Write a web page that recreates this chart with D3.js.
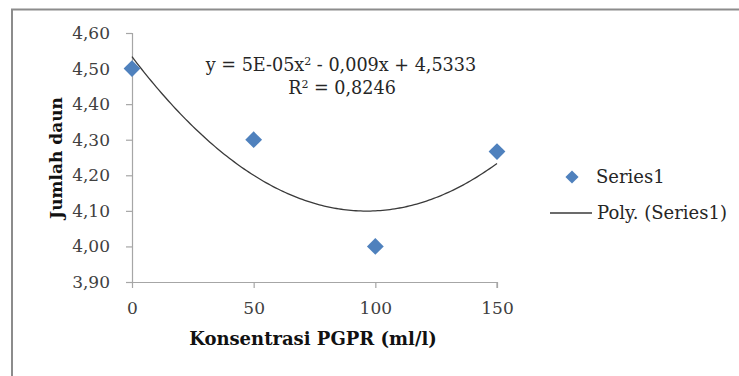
<!DOCTYPE html>
<html>
<head>
<meta charset="utf-8">
<script src="https://cdn.jsdelivr.net/npm/d3@7"></script>
<style>
  html, body { margin: 0; padding: 0; background: #fff; }
  svg { display: block; }
  text { font-family: "DejaVu Serif", "Liberation Serif", serif; }
</style>
</head>
<body>
<div id="chart"></div>
<script>
// Konsentrasi PGPR (ml/l) vs. Jumlah daun
const concentrations = [0, 50, 100, 150];
const leafCounts = [4.50, 4.30, 4.00, 4.2667];
const yTicks = [3.90, 4.00, 4.10, 4.20, 4.30, 4.40, 4.50, 4.60];
const xTicks = [0, 50, 100, 150];
const equationParts = ["y = 5E-05x", "2", " - 0,009x + 4,5333"];
const r2Label = "0,8246";
const legendLabels = ["Series1", "Poly. (Series1)"];

const W = 739, H = 376;
const margin = { left: 132, right: 242, top: 33, bottom: 94 };

const svg = d3.select("#chart").append("svg")
  .attr("width", W).attr("height", H);

// chart frame (top and left edges visible)
svg.append("path")
  .attr("d", `M12,${H} L12,9.5 L${W},9.5`)
  .attr("fill", "none").attr("stroke", "#8c8c8c").attr("stroke-width", 2);

const x = d3.scaleLinear().domain([0, 150]).range([margin.left, W - margin.right]);
const y = d3.scaleLinear().domain([3.9, 4.6]).range([H - margin.bottom, margin.top]);

const fmt = d => d3.format(".2f")(d).replace(".", ",");

// y axis
const yAxis = svg.append("g")
  .attr("transform", `translate(${x(0)},0)`)
  .call(d3.axisLeft(y).tickValues(yTicks).tickFormat(fmt).tickSize(6).tickPadding(16));
// x axis
const xAxis = svg.append("g")
  .attr("transform", `translate(0,${y(3.9)})`)
  .call(d3.axisBottom(x).tickValues(xTicks).tickSize(6).tickPadding(14));

[yAxis, xAxis].forEach(g => {
  g.select(".domain").attr("stroke", "#a6a6a6").attr("stroke-width", 1.2);
  g.selectAll(".tick line").attr("stroke", "#a6a6a6").attr("stroke-width", 1.2);
  g.selectAll(".tick text")
    .attr("fill", "#404040")
    .style("font-family", "'DejaVu Serif', serif")
    .style("font-size", "17px");
});
xAxis.select(".domain").attr("d", `M${x(0) - 6},0.5H${x(150)}V6`);

// least squares quadratic fit for the trendline
function polyfit2(xs, ys) {
  const S = [0, 0, 0, 0, 0], T = [0, 0, 0];
  xs.forEach((xi, i) => {
    for (let k = 0; k < 5; k++) S[k] += Math.pow(xi, k);
    for (let k = 0; k < 3; k++) T[k] += Math.pow(xi, k) * ys[i];
  });
  const A = [[S[0], S[1], S[2], T[0]], [S[1], S[2], S[3], T[1]], [S[2], S[3], S[4], T[2]]];
  for (let i = 0; i < 3; i++) {
    for (let j = i + 1; j < 3; j++) {
      const f = A[j][i] / A[i][i];
      for (let k = i; k < 4; k++) A[j][k] -= f * A[i][k];
    }
  }
  const c = [0, 0, 0];
  for (let i = 2; i >= 0; i--) {
    let s = A[i][3];
    for (let k = i + 1; k < 3; k++) s -= A[i][k] * c[k];
    c[i] = s / A[i][i];
  }
  return c;
}
const coef = polyfit2(concentrations, leafCounts);
const fitPts = d3.range(0, 150.01, 1).map(v => [v, coef[0] + coef[1] * v + coef[2] * v * v]);

svg.append("path")
  .datum(fitPts)
  .attr("fill", "none")
  .attr("stroke", "#3a3a3a")
  .attr("stroke-width", 1.3)
  .attr("d", d3.line().x(d => x(d[0])).y(d => y(d[1])));

// data markers
const diamond = d3.symbol().type(d3.symbolDiamond2).size(180);
svg.selectAll("path.pt")
  .data(concentrations)
  .join("path")
  .attr("class", "pt")
  .attr("d", diamond)
  .attr("transform", (d, i) => `translate(${x(d)},${y(leafCounts[i])})`)
  .attr("fill", "#4f81bd");

// trendline equation
const eq = svg.append("text")
  .attr("x", 341).attr("y", 71)
  .attr("text-anchor", "middle")
  .attr("fill", "#262626")
  .style("font-size", "17.6px");
eq.append("tspan").text(equationParts[0]);
eq.append("tspan").attr("dy", -6).style("font-size", "11px").text(equationParts[1]);
eq.append("tspan").attr("dy", 6).text(equationParts[2]);

const r2 = svg.append("text")
  .attr("x", 342).attr("y", 94)
  .attr("text-anchor", "middle")
  .attr("fill", "#262626")
  .style("font-size", "17.6px");
r2.append("tspan").text("R");
r2.append("tspan").attr("dy", -6).style("font-size", "11px").text("2");
r2.append("tspan").attr("dy", 6).text(" = " + r2Label);

// axis titles
svg.append("text")
  .attr("x", 313).attr("y", 345)
  .attr("text-anchor", "middle")
  .attr("fill", "#111")
  .style("font-size", "18px").style("font-weight", "bold")
  .text("Konsentrasi PGPR (ml/l)");

svg.append("text")
  .attr("transform", "translate(62,158) rotate(-90)")
  .attr("text-anchor", "middle")
  .attr("fill", "#111")
  .style("font-size", "17px").style("font-weight", "bold")
  .text("Jumlah daun");

// legend
const lg = svg.append("g");
lg.append("path")
  .attr("d", d3.symbol().type(d3.symbolDiamond2).size(110))
  .attr("transform", "translate(572,177)")
  .attr("fill", "#4f81bd");
lg.append("text").attr("x", 596).attr("y", 183)
  .attr("fill", "#262626").style("font-size", "18px").text(legendLabels[0]);
lg.append("line")
  .attr("x1", 550).attr("x2", 592).attr("y1", 213).attr("y2", 213)
  .attr("stroke", "#3a3a3a").attr("stroke-width", 1.3);
lg.append("text").attr("x", 597).attr("y", 219)
  .attr("fill", "#262626").style("font-size", "18px").text(legendLabels[1]);
</script>
</body>
</html>
